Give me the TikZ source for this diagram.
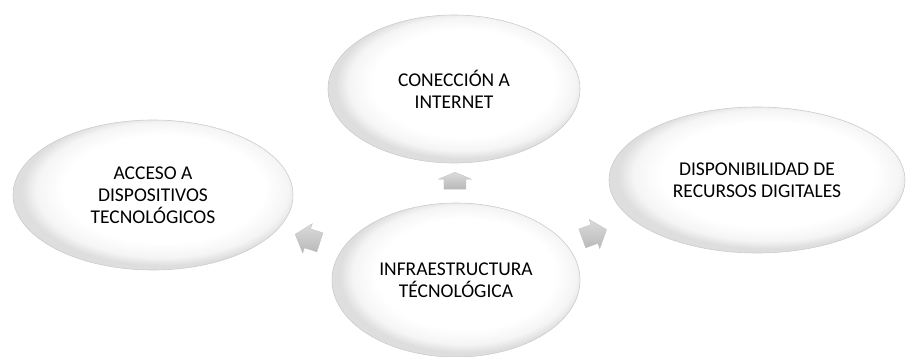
\documentclass[tikz,border=0pt]{standalone}
\usepackage{fontspec}
\setmainfont{Carlito}
\usetikzlibrary{shapes.geometric,calc}
\pgfdeclareradialshading{bevel}{\pgfpoint{3bp}{3bp}}{color(0bp)=(white); color(18bp)=(white); color(22.5bp)=(gray!8); color(25bp)=(gray!26); color(50bp)=(gray!26)}
\begin{document}
\begin{tikzpicture}[x=1pt,y=-1pt,
  bubble/.style={ellipse, shading=bevel, draw=gray!40, line width=0.6pt,
    font=\fontsize{19.5}{22}\selectfont, text=black, align=center, inner sep=0pt},
  blockarrow/.style={shade, top color=gray!28, bottom color=gray!55,
    draw=gray!50, line width=0.3pt, line join=miter}]
\useasboundingbox (0,0) rectangle (907,356);
\node[bubble, minimum width=252pt, minimum height=148pt] (top) at (454,89) {CONECCIÓN A\\INTERNET};
\node[bubble, minimum width=280pt, minimum height=150pt] (left) at (153,195) {ACCESO A\\DISPOSITIVOS\\TECNOLÓGICOS};
\node[bubble, minimum width=296pt, minimum height=146pt] (right) at (757,180) {DISPONIBILIDAD DE\\RECURSOS DIGITALES};
\node[bubble, minimum width=248pt, minimum height=154pt] (center) at (456,280) {INFRAESTRUCTURA\\TÉCNOLÓGICA};
\coordinate (p1) at ($(center)!0.52!(top)$);
\coordinate (p2) at ($(center)!0.49!(left)$);
\coordinate (p3) at ($(center)!0.46!(right)$);
\draw[blockarrow, shift={(p1)}, rotate=90]
  (-8.5,-11) -- (1.5,-11) -- (1.5,-16.5) -- (8.5,0) -- (1.5,16.5) -- (1.5,11) -- (-8.5,11) -- cycle;
\draw[blockarrow, shift={(p2)}, rotate=162]
  (-13,-10) -- (0,-10) -- (0,-15.5) -- (13,0) -- (0,15.5) -- (0,10) -- (-13,10) -- cycle;
\draw[blockarrow, shift={(p3)}, rotate=20]
  (-13,-10) -- (0,-10) -- (0,-15.5) -- (13,0) -- (0,15.5) -- (0,10) -- (-13,10) -- cycle;
\end{tikzpicture}
\end{document}
